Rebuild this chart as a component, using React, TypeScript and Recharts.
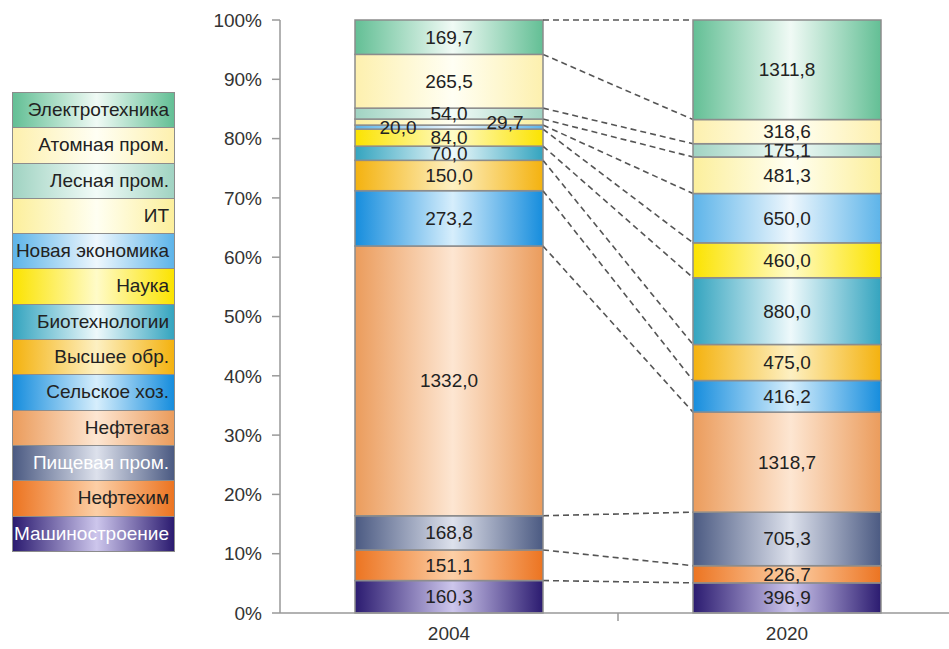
import React from 'react';
import { BarChart, Bar, XAxis, YAxis, Legend, LabelList } from 'recharts';

const years = ['2004', '2020'];
// bottom to top
const sectors = [
  'Машиностроение', 'Нефтехим', 'Пищевая пром.', 'Нефтегаз', 'Сельское хоз.',
  'Высшее обр.', 'Биотехнологии', 'Наука', 'Новая экономика', 'ИТ',
  'Лесная пром.', 'Атомная пром.', 'Электротехника',
];
const values2004 = [160.3, 151.1, 168.8, 1332.0, 273.2, 150.0, 70.0, 84.0, 20.0, 29.7, 54.0, 265.5, 169.7];
const values2020 = [396.9, 226.7, 705.3, 1318.7, 416.2, 475.0, 880.0, 460.0, 650.0, 481.3, 175.1, 318.6, 1311.8];
const yTicks = [0, 0.1, 0.2, 0.3, 0.4, 0.5, 0.6, 0.7, 0.8, 0.9, 1];

const seriesValues = [values2004, values2020];

const EDGE = ['#2b1b70', '#ec7421', '#4b5a82', '#eb9c5c', '#168ddd', '#f4b20f', '#34a4bf', '#fbe300', '#5db4e9', '#fcef9c', '#a0d3c2', '#fdf0ae', '#63bf95'];
const MID = ['#cdc6ec', '#fccfa6', '#dde1ec', '#fde6d2', '#d6eefc', '#fdf0c2', '#eef9fb', '#fffbc8', '#eef7fd', '#fffff2', '#f2fbf8', '#fffff4', '#f0faf5'];
const TEXT = ['#ffffff', '#222', '#ffffff', '#222', '#222', '#222', '#222', '#222', '#222', '#222', '#222', '#222', '#222'];

const FONT = '"Liberation Sans", Arial, sans-serif';
const W = 956;
const H = 649;
const Y_AXIS_W = 280;
const BAND = (W - Y_AXIS_W) / 2;

const data = years.map((year, r) => {
  const row: any = { year };
  sectors.forEach((_, i) => { row['s' + i] = seriesValues[r][i]; });
  return row;
});

const sum = (a: number[]) => a.reduce((s, v) => s + v, 0);
const cumTop = (a: number[], i: number) => sum(a.slice(0, i + 1)) / sum(a);
const fmt = (v: number) => v.toFixed(1).replace('.', ',');

// labels that sit beside their thin band
const labelShift: Record<string, number> = { '0-8': -51, '0-9': 56 };

const renderSegment = (props: any, i: number) => {
  const { x, y, width, height, fill, index } = props;
  const rect = <rect x={x} y={y} width={width} height={height} fill={fill} stroke="#8c8c8c" strokeWidth={1.5} />;
  if (index !== 0) return rect;
  // dashed connector from top of 2004 segment to top of the same 2020 segment
  const frac = values2004[i] / sum(values2004);
  const px = height / frac;
  const base = y + height + (cumTop(values2004, i) - frac) * px;
  const y2 = base - cumTop(values2020, i) * px;
  return (
    <g>
      {rect}
      <line x1={x + width} y1={y} x2={x + BAND} y2={y2} stroke="#555" strokeWidth={1.6} strokeDasharray="6 4" />
    </g>
  );
};

const renderLabel = (p: any, i: number) => {
  const { x, y, width, height, index } = p;
  const v = seriesValues[index][i];
  const shift = labelShift[`${index}-${i}`] || 0;
  return (
    <text x={Number(x) + Number(width) / 2 + shift} y={Number(y) + Number(height) / 2} textAnchor="middle"
      dominantBaseline="central" fontSize={19} fill="#222" fontFamily={FONT}>
      {fmt(v)}
    </text>
  );
};

const XTick = (props: any) => {
  const { x, y, payload, index } = props;
  const axisY = y - 8 - 6;
  return (
    <g>
      <text x={x} y={y} dy="0.71em" textAnchor="middle" fontSize={19} fill="#333" fontFamily={FONT}>{payload.value}</text>
      {index === 0 && <line x1={x + BAND / 2} x2={x + BAND / 2} y1={axisY} y2={axisY + 8} stroke="#999" strokeWidth={1.5} />}
    </g>
  );
};

const LegendBox = () => (
  <div style={{ border: '1.5px solid #8c8c8c', fontFamily: FONT }}>
    {sectors.map((s, i) => i).reverse().map((i, k) => (
      <div key={i} style={{
        height: 34.3, lineHeight: '34.3px', textAlign: 'right', paddingRight: 5, fontSize: 19,
        whiteSpace: 'nowrap', overflow: 'hidden',
        color: TEXT[i], borderTop: k === 0 ? 'none' : '1.5px solid #8c8c8c',
        background: `linear-gradient(to right, ${EDGE[i]}, ${MID[i]} 52%, ${EDGE[i]})`,
      }}>{sectors[i]}</div>
    ))}
  </div>
);

export default function App() {
  return (
    <div style={{ position: 'absolute', left: 0, top: 0, width: 949, height: 649, overflow: 'hidden', background: '#fff', fontFamily: FONT }}>
      <BarChart width={W} height={H} data={data} stackOffset="expand" barSize={188}
        margin={{ top: 20, right: 0, bottom: 6, left: 0 }}>
        <defs>
          {sectors.map((_, i) => (
            <linearGradient key={i} id={`g${i}`} x1="0" y1="0" x2="1" y2="0">
              <stop offset="0%" stopColor={EDGE[i]} />
              <stop offset="52%" stopColor={MID[i]} />
              <stop offset="100%" stopColor={EDGE[i]} />
            </linearGradient>
          ))}
        </defs>
        <XAxis dataKey="year" height={30} interval={0} tickLine={false} tickSize={8} tickMargin={6}
          axisLine={{ stroke: '#999', strokeWidth: 1.5 }} tick={<XTick />} />
        <YAxis type="number" width={Y_AXIS_W} domain={[0, 1]} ticks={yTicks} interval={0}
          tickFormatter={(v: number) => `${Math.round(v * 100)}%`} tickSize={8} tickMargin={10}
          axisLine={{ stroke: '#999', strokeWidth: 1.5 }} tickLine={{ stroke: '#999', strokeWidth: 1.5 }}
          tick={{ fill: '#333', fontSize: 19, fontFamily: FONT }} />
        <Legend layout="horizontal" align="center" verticalAlign="middle"
          wrapperStyle={{ position: 'absolute', left: 12, top: 92, width: 163, height: 466 }}
          content={() => <LegendBox />} />
        {sectors.map((s, i) => (
          <Bar key={s} dataKey={'s' + i} name={s} stackId="a" fill={`url(#g${i})`} isAnimationActive={false}
            shape={(p: any) => renderSegment(p, i)}>
            <LabelList dataKey={'s' + i} content={(p: any) => renderLabel(p, i)} />
          </Bar>
        ))}
      </BarChart>
    </div>
  );
}
